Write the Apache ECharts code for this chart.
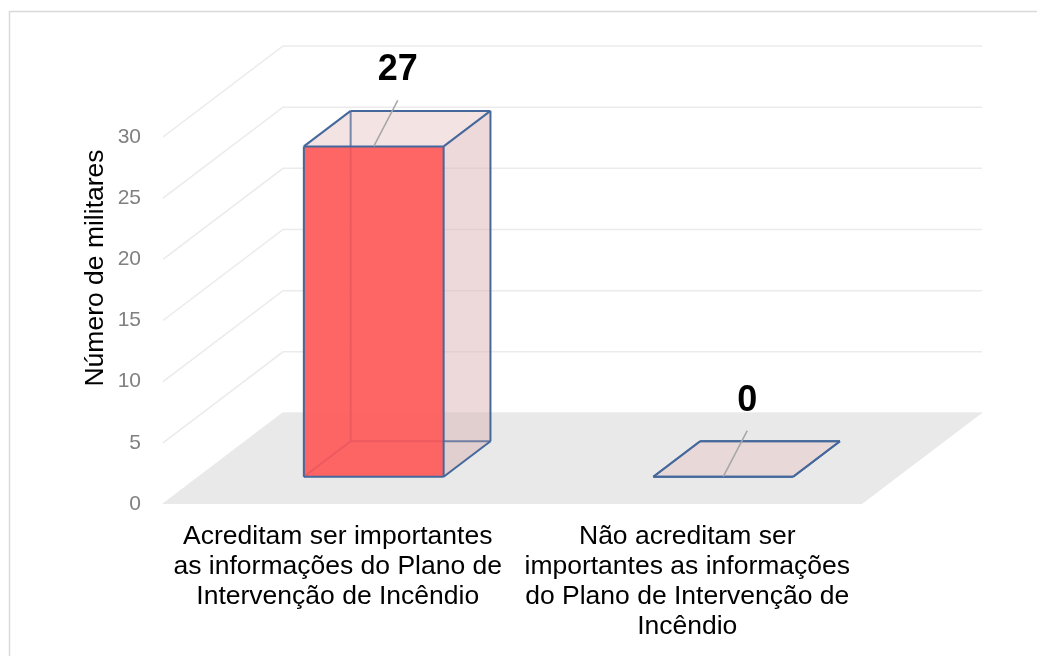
<!DOCTYPE html>
<html>
<head>
<meta charset="utf-8">
<script src="https://cdn.jsdelivr.net/npm/echarts@6/dist/echarts.min.js"></script>
<style>
  html, body { margin: 0; padding: 0; background: #fff; }
  #chart { width: 1037px; height: 656px; }
</style>
</head>
<body>
<div id="chart"></div>
<script>
  const categories = [
    "Acreditam ser importantes\nas informações do Plano de\nIntervenção de Incêndio",
    "Não acreditam ser\nimportantes as informações\ndo Plano de Intervenção de\nIncêndio",
  ]
  const values = [27, 0]
  const yTicks = [0, 5, 10, 15, 20, 25, 30]
  const yTitle = "Número de militares"

  // fake 3d: full depth of the floor in pixels, bar sits between z0 and z1
  const DX = 120
  const DY = -91
  const Z0 = 0.3
  const Z1 = 0.69
  const EDGE = "#44689c"

  function P(x, y, z) {
    return [x + DX * z, y + DY * z]
  }

  function renderGrid(params, api) {
    const cs = params.coordSys
    const y = api.coord([0, api.value(0)])[1]
    const a = [cs.x, y]
    const b = P(cs.x, y, 1)
    const c = P(cs.x + cs.width, y, 1)
    return {
      type: "polyline",
      shape: { points: [a, b, c] },
      style: { stroke: "#ebebeb", lineWidth: 1.5, fill: null },
    }
  }

  function renderFloor(params, api) {
    const cs = params.coordSys
    const y = api.coord([0, 0])[1]
    return {
      type: "polygon",
      shape: {
        points: [[cs.x, y], P(cs.x, y, 1), P(cs.x + cs.width, y, 1), [cs.x + cs.width, y]],
      },
      style: { fill: "#e9e9e9" },
    }
  }

  function renderBar(params, api) {
    const cat = api.value(0)
    const val = api.value(1)
    const base = api.coord([cat, 0])
    const top = api.coord([cat, val])
    const half = (api.size([1, 0])[0] * 0.4) / 2
    const xl = base[0] - half
    const xr = base[0] + half
    const yb = base[1]
    const yt = top[1]
    const FLB = P(xl, yb, Z0), FRB = P(xr, yb, Z0), FRT = P(xr, yt, Z0), FLT = P(xl, yt, Z0)
    const BLB = P(xl, yb, Z1), BRB = P(xr, yb, Z1), BRT = P(xr, yt, Z1), BLT = P(xl, yt, Z1)
    const poly = (pts, fill) => ({ type: "polygon", shape: { points: pts }, style: { fill: fill } })
    const line = (p, q) => ({
      type: "line",
      shape: { x1: p[0], y1: p[1], x2: q[0], y2: q[1] },
      style: { stroke: EDGE, lineWidth: 2 },
    })
    const anchor = [(FLT[0] + FRT[0]) / 2, FLT[1]]
    const children = [
      poly([BLB, BRB, BRT, BLT], "rgba(225,190,190,0.3)"),
      poly([FLB, FRB, BRB, BLB], "rgba(225,190,190,0.3)"),
      poly([FLB, BLB, BLT, FLT], "rgba(225,190,190,0.3)"),
      line(BLB, BLT),
      line(BLB, BRB),
      line(FLB, BLB),
      poly([FRB, BRB, BRT, FRT], "rgba(215,175,175,0.3)"),
      poly([FLT, FRT, BRT, BLT], "rgba(240,210,210,0.3)"),
    ]
    if (yt < yb) {
      children.push({
        type: "rect",
        shape: { x: FLB[0], y: yt + DY * Z0, width: xr - xl, height: yb - yt },
        style: { fill: "rgba(255,88,88,0.9)" },
      })
    }
    children.push(
      line(FLB, FRB), line(FRB, FRT), line(FRT, FLT), line(FLT, FLB),
      line(FRT, BRT), line(BRT, BLT), line(BLT, FLT),
      line(FRB, BRB), line(BRB, BRT),
      {
        type: "line",
        shape: { x1: anchor[0], y1: anchor[1], x2: anchor[0] + 24, y2: anchor[1] - 46 },
        style: { stroke: "#a6a6a6", lineWidth: 1.5 },
      },
      {
        type: "text",
        style: {
          text: String(val),
          x: anchor[0] + 24,
          y: anchor[1] - 76,
          align: "center",
          verticalAlign: "middle",
          fontFamily: "Liberation Sans",
          fontSize: 36,
          fontWeight: "bold",
          fill: "#000",
        },
      }
    )
    return { type: "group", children: children }
  }

  const chart = echarts.init(document.getElementById("chart"))
  chart.setOption({
    animation: false,
    backgroundColor: "#fff",
    graphic: [
      {
        type: "rect",
        shape: { x: 9.5, y: 11.5, width: 1100, height: 700 },
        style: { fill: null, stroke: "#d9d9d9", lineWidth: 1.5 },
        z: -10,
      },
      {
        // excel centres the title on the whole 3d plot area, not the front plane
        type: "text",
        x: 96,
        y: 268,
        rotation: Math.PI / 2,
        style: {
          text: yTitle,
          align: "center",
          verticalAlign: "middle",
          fontFamily: "Liberation Sans",
          fontSize: 26.5,
          fill: "#000",
        },
      },
    ],
    grid: { left: 163, right: 175, top: 137, bottom: 152 },
    xAxis: {
      type: "category",
      data: categories,
      axisLine: { show: false },
      axisTick: { show: false },
      splitLine: { show: false },
      axisLabel: {
        interval: 0,
        margin: 18,
        color: "#000",
        fontFamily: "Liberation Sans",
        fontSize: 26.5,
        lineHeight: 30,
        align: "center",
      },
    },
    yAxis: {
      type: "value",
      min: 0,
      max: 30,
      interval: 5,
      axisLine: { show: false },
      axisTick: { show: false },
      splitLine: { show: false },
      axisLabel: { margin: 22, color: "#808080", fontFamily: "Liberation Sans", fontSize: 21 },
    },
    series: [
      {
        type: "custom",
        renderItem: renderGrid,
        data: yTicks.map((t) => [t]),
        encode: { y: 0 },
        silent: true,
        z: 1,
      },
      {
        type: "custom",
        renderItem: renderFloor,
        data: [[0]],
        silent: true,
        z: 2,
      },
      {
        type: "custom",
        renderItem: renderBar,
        data: values.map((v, i) => [i, v]),
        encode: { x: 0, y: 1 },
        z: 3,
      },
    ],
  })
</script>
</body>
</html>
